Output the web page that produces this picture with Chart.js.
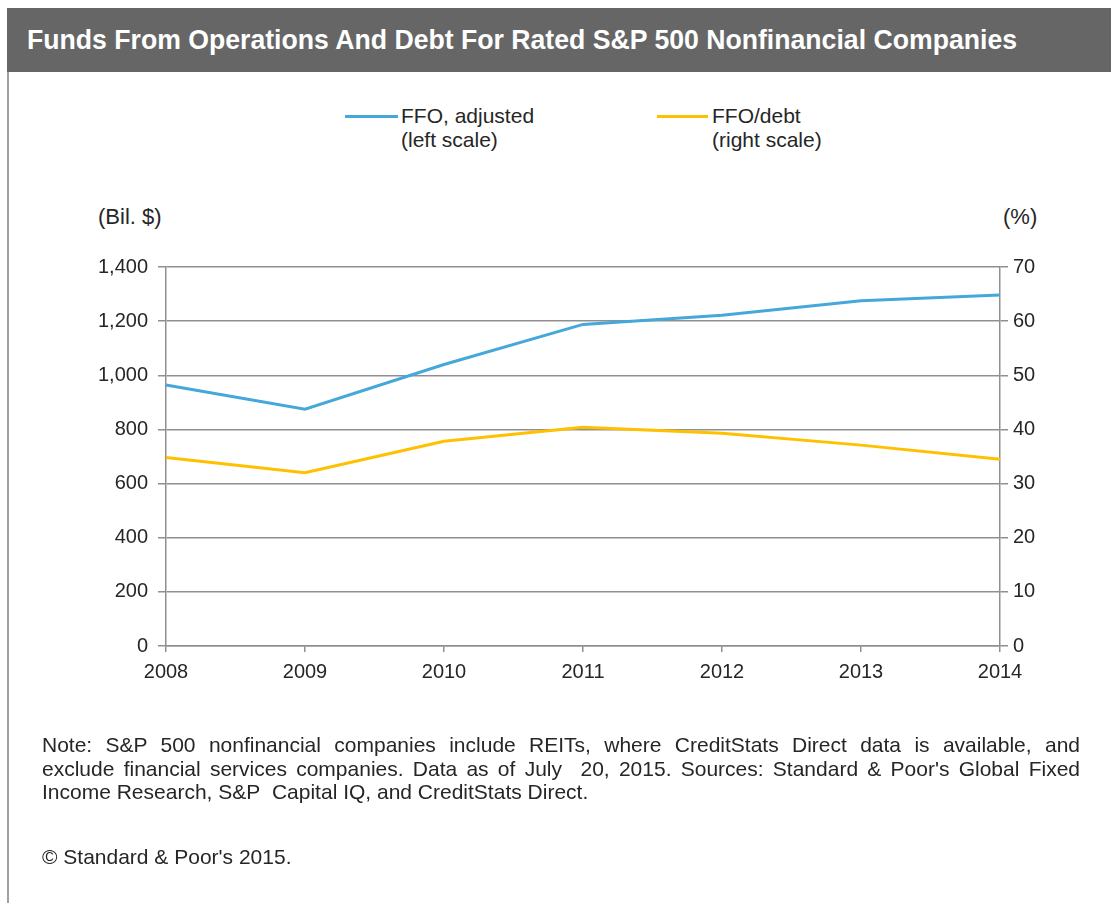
<!DOCTYPE html>
<html>
<head>
<meta charset="utf-8">
<script src="https://cdn.jsdelivr.net/npm/chart.js@4.4.1/dist/chart.umd.min.js"></script>
<style>
  html, body { margin:0; padding:0; background:#fff; }
  body { width:1111px; height:903px; position:relative; overflow:hidden; font-family:"Liberation Sans", Arial, sans-serif; color:#262626; }
  .abs { position:absolute; white-space:nowrap; }
  #bar { left:7px; top:8px; width:1104px; height:64px; background:#666666; }
  #frame { left:7px; top:72px; width:2px; height:831px; background:#a0a0a0; }
  #title { left:27px; top:8px; height:64px; line-height:64px; color:#fff; font-family:"Liberation Sans Narrow","Arial Narrow","Liberation Sans",sans-serif; font-weight:bold; font-size:28px; transform-origin:left center; }
  .leg { font-size:21px; line-height:23.5px; }
  .legline { height:3px; }
  .axt { font-size:22px; line-height:24px; }
  #notes { left:42px; top:733px; width:1038px; font-size:21px; line-height:23.5px; white-space:normal; }
  #notes div { white-space:nowrap; }
  #notes .j { text-align:justify; text-align-last:justify; white-space:normal; }
  #copy { left:42px; top:845px; font-size:21px; line-height:24px; }
  canvas { position:absolute; left:0; top:0; }
</style>
</head>
<body>
<div id="bar" class="abs"></div>
<div id="frame" class="abs"></div>
<div id="title" class="abs">Funds From Operations And Debt For Rated S&amp;P 500 Nonfinancial Companies</div>

<div class="abs legline" id="l1" style="left:345px; top:115px; width:53px;"></div>
<div class="abs leg" style="left:401px; top:104px;">FFO, adjusted<br>(left scale)</div>
<div class="abs legline" id="l2" style="left:657px; top:115px; width:51px;"></div>
<div class="abs leg" style="left:712px; top:104px;">FFO/debt<br>(right scale)</div>

<div class="abs axt" style="left:98px; top:205px;">(Bil. $)</div>
<div class="abs axt" style="left:1003px; top:205px;">(%)</div>

<canvas id="c" width="1111" height="903"></canvas>

<div id="notes" class="abs">
  <div class="j">Note: S&amp;P 500 nonfinancial companies include REITs, where CreditStats Direct data is available, and</div>
  <div class="j">exclude financial services companies. Data as of July&nbsp; 20, 2015. Sources: Standard &amp; Poor's Global Fixed</div>
  <div>Income Research, S&amp;P&nbsp; Capital IQ, and CreditStats Direct.</div>
</div>
<div id="copy" class="abs">© Standard &amp; Poor's 2015.</div>

<script>
// ---- data ----
const years = ["2008", "2009", "2010", "2011", "2012", "2013", "2014"];
const ffoAdjusted = [964, 875, 1040, 1188, 1222, 1275, 1297];   // Bil. $ (left scale)
const ffoToDebt = [34.8, 32.0, 37.8, 40.4, 39.3, 37.1, 34.5];   // % (right scale)
const leftTicks = [0, 200, 400, 600, 800, 1000, 1200, 1400];
const rightTicks = [0, 10, 20, 30, 40, 50, 60, 70];

const BLUE = "#46a8da";
const YELLOW = "#ffc000";
const GRID = "#8f8f8f";
const TXT = "#262626";

document.getElementById("l1").style.background = BLUE;
document.getElementById("l2").style.background = YELLOW;

// fit title width
(function(){
  const t = document.getElementById("title");
  const w = t.getBoundingClientRect().width;
  if (w > 0) t.style.transform = "scaleX(" + (990 / w) + ")";
})();

const tickFont = { family: "'Liberation Sans', Arial, sans-serif", size: 20 };

new Chart(document.getElementById("c"), {
  type: "line",
  data: {
    labels: years,
    datasets: [
      { label: "FFO, adjusted", data: ffoAdjusted, yAxisID: "y", borderColor: BLUE, borderWidth: 3, pointRadius: 0, tension: 0, fill: false },
      { label: "FFO/debt", data: ffoToDebt, yAxisID: "y1", borderColor: YELLOW, borderWidth: 3, pointRadius: 0, tension: 0, fill: false }
    ]
  },
  options: {
    responsive: false,
    animation: false,
    events: [],
    layout: { padding: { top: 267, left: 0, right: 0, bottom: 217 } },
    plugins: { legend: { display: false }, tooltip: { enabled: false }, title: { display: false } },
    scales: {
      x: {
        type: "category",
        offset: false,
        grid: { display: true, drawOnChartArea: false, drawTicks: true, tickLength: 6, color: GRID, lineWidth: 1.5 },
        border: { display: true, color: GRID, width: 1.5 },
        ticks: { font: tickFont, color: TXT, padding: 8, maxRotation: 0, autoSkip: false },
        afterFit: s => { s.height = 40; }
      },
      y: {
        position: "left",
        min: 0, max: 1400,
        afterBuildTicks: s => { s.ticks = leftTicks.map(v => ({ value: v })); },
        grid: { color: GRID, lineWidth: 1.5, tickLength: 8, drawTicks: true },
        border: { display: true, color: GRID, width: 1.5 },
        ticks: { font: tickFont, color: TXT, padding: 10, callback: v => v.toLocaleString("en-US") },
        afterFit: s => { s.width = 166; }
      },
      y1: {
        position: "right",
        min: 0, max: 70,
        afterBuildTicks: s => { s.ticks = rightTicks.map(v => ({ value: v })); },
        grid: { drawOnChartArea: false, color: GRID, lineWidth: 1.5, tickLength: 8, drawTicks: true },
        border: { display: true, color: GRID, width: 1.5 },
        ticks: { font: tickFont, color: TXT, padding: 5 },
        afterFit: s => { s.width = 111; }
      }
    }
  }
});
</script>
</body>
</html>
